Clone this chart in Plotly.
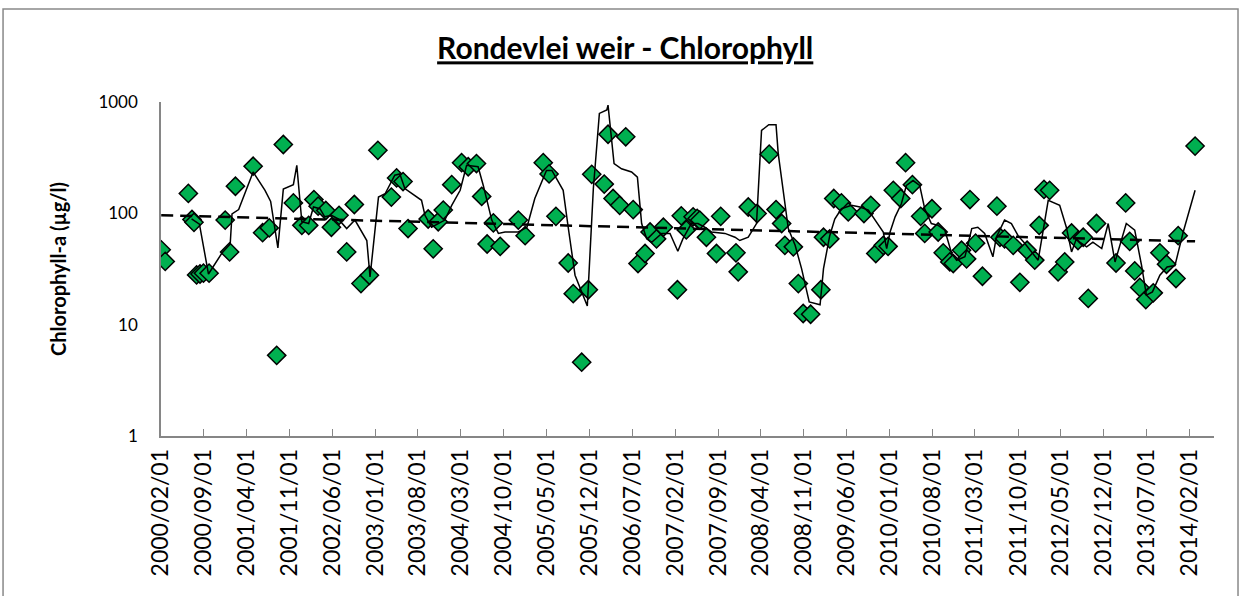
import plotly.graph_objects as go

# ---- measured points (weir samples) ----
point_dates = [
    "2000-02-02", "2000-02-22", "2000-06-16", "2000-07-04", "2000-07-14", "2000-07-27",
    "2000-08-13", "2000-08-30", "2000-09-27", "2000-12-16", "2001-01-07", "2001-02-05",
    "2001-05-04", "2001-06-20", "2001-07-23", "2001-08-29", "2001-10-01", "2001-11-20",
    "2002-01-01", "2002-02-04", "2002-03-02", "2002-03-23", "2002-04-30", "2002-05-28",
    "2002-07-05", "2002-08-12", "2002-09-19", "2002-10-22", "2002-12-03", "2003-01-14",
    "2003-03-22", "2003-04-17", "2003-05-19", "2003-06-13", "2003-09-21", "2003-10-16",
    "2003-11-10", "2003-12-05", "2004-01-16", "2004-03-05", "2004-04-07", "2004-05-18",
    "2004-06-13", "2004-07-10", "2004-08-10", "2004-09-13", "2004-12-12", "2005-01-15",
    "2005-04-15", "2005-05-14", "2005-06-17", "2005-08-17", "2005-09-11", "2005-10-23",
    "2005-11-25", "2005-12-12", "2006-02-12", "2006-03-03", "2006-03-28", "2006-04-30",
    "2006-05-30", "2006-07-06", "2006-07-30", "2006-09-03", "2006-09-28", "2006-10-30",
    "2006-12-03", "2007-02-11", "2007-03-02", "2007-03-27", "2007-04-30", "2007-05-20",
    "2007-06-02", "2007-07-05", "2007-08-24", "2007-09-14", "2007-11-29", "2007-12-10",
    "2008-01-29", "2008-03-13", "2008-05-12", "2008-06-15", "2008-07-13", "2008-07-29",
    "2008-09-09", "2008-10-04", "2008-10-28", "2008-12-04", "2009-01-24", "2009-02-06",
    "2009-03-09", "2009-03-29", "2009-05-06", "2009-06-09", "2009-08-26", "2009-09-29",
    "2009-10-24", "2009-11-30", "2009-12-24", "2010-01-19", "2010-02-25", "2010-03-21",
    "2010-04-24", "2010-06-04", "2010-06-24", "2010-07-30", "2010-08-30", "2010-09-24",
    "2010-10-27", "2010-11-13", "2010-12-24", "2011-01-18", "2011-02-04", "2011-03-04",
    "2011-04-07", "2011-06-18", "2011-07-03", "2011-07-26", "2011-09-07", "2011-10-10",
    "2011-11-15", "2011-12-23", "2012-01-14", "2012-02-07", "2012-03-06", "2012-04-17",
    "2012-05-20", "2012-06-23", "2012-07-25", "2012-08-20", "2012-09-14", "2012-10-25",
    "2013-01-30", "2013-03-19", "2013-04-08", "2013-05-03", "2013-05-28", "2013-06-27",
    "2013-08-03", "2013-09-05", "2013-10-08", "2013-11-24", "2013-12-05", "2014-02-27",
]
point_values = [
    47, 37, 151, 88, 83, 28,
    28.5, 29, 29, 87, 45, 175,
    265, 67, 74, 5.3, 415, 124,
    78, 78, 133, 116, 106, 75,
    96, 45, 120, 23.4, 27.8, 368,
    140, 208, 193, 73, 89, 48,
    84, 107, 181, 285, 262, 280,
    142, 53, 82, 50.5, 87, 63,
    285, 226, 94, 35.8, 19, 4.6,
    20.6, 224, 183, 513, 136, 118,
    487, 108, 35.4, 43.6, 68, 59,
    75, 20.6, 95, 71, 93, 90,
    87, 61, 43.6, 94, 44.2, 29.8,
    114, 99.6, 340, 108, 81, 51.6,
    50, 23.4, 12.6, 12.4, 20.6, 61,
    59, 136, 124, 103, 99.6, 118,
    43.6, 51.6, 50.5, 161, 136, 285,
    181, 94, 66, 110, 68, 44.2,
    36.6, 35.4, 46.6, 39, 133, 54,
    27.2, 116, 61, 59, 51.6, 24,
    46.6, 38, 78, 164, 161, 29.8,
    36.6, 66.6, 57, 61, 17.2, 81,
    35.8, 124, 56, 30.4, 21.6, 16.8,
    19.3, 44.2, 34.9, 26, 63, 402,
]

# ---- continuous line series ----
line_dates = [
    "2000-07-02", "2000-08-10", "2000-09-24", "2000-11-30", "2001-01-10", "2001-01-19",
    "2001-02-21", "2001-05-04", "2001-07-02", "2001-07-30", "2001-09-04", "2001-10-01",
    "2001-11-20", "2001-12-07", "2002-01-01", "2002-02-04", "2002-02-28", "2002-04-01",
    "2002-04-25", "2002-05-28", "2002-07-01", "2002-08-12", "2002-09-22", "2002-11-20",
    "2002-12-06", "2003-01-17", "2003-02-19", "2003-04-08", "2003-05-03", "2003-05-28",
    "2003-08-19", "2003-09-05", "2003-10-08", "2003-11-10", "2003-12-13", "2004-01-16",
    "2004-02-27", "2004-03-30", "2004-05-26", "2004-06-21", "2004-08-02", "2004-09-04",
    "2004-10-07", "2004-12-12", "2005-01-24", "2005-03-04", "2005-05-01", "2005-05-28",
    "2005-07-23", "2005-08-17", "2005-09-20", "2005-11-20", "2005-12-20", "2006-01-19",
    "2006-02-25", "2006-03-03", "2006-04-02", "2006-05-09", "2006-06-28", "2006-07-27",
    "2006-08-17", "2006-09-11", "2006-10-06", "2006-11-25", "2007-01-05", "2007-02-13",
    "2007-03-10", "2007-04-21", "2007-05-24", "2007-06-27", "2007-07-30", "2007-10-05",
    "2007-11-24", "2007-12-18", "2008-01-29", "2008-03-10", "2008-04-04", "2008-05-10",
    "2008-06-15", "2008-06-26", "2008-07-20", "2008-08-15", "2008-09-18", "2008-10-20",
    "2008-11-27", "2009-01-20", "2009-02-06", "2009-03-09", "2009-04-03", "2009-05-06",
    "2009-06-25", "2009-08-06", "2009-09-17", "2009-10-28", "2009-11-30", "2009-12-17",
    "2010-01-03", "2010-01-28", "2010-02-28", "2010-03-25", "2010-04-27", "2010-05-30",
    "2010-06-24", "2010-07-27", "2010-08-30", "2010-10-02", "2010-11-05", "2010-11-30",
    "2011-01-10", "2011-02-13", "2011-03-15", "2011-04-18", "2011-05-29", "2011-06-15",
    "2011-07-26", "2011-08-29", "2011-10-01", "2011-11-04", "2011-12-07", "2012-01-09",
    "2012-02-28", "2012-04-25", "2012-05-28", "2012-06-23", "2012-07-17", "2012-08-03",
    "2012-09-06", "2012-10-07", "2012-11-20", "2012-12-22", "2013-01-25", "2013-03-22",
    "2013-05-03", "2013-06-06", "2013-06-30", "2013-07-30", "2013-09-05", "2013-10-11",
    "2013-11-19", "2013-12-30", "2014-02-27",
]
line_values = [
    89, 80, 28.5, 44, 53, 99,
    108, 235, 161, 128, 49, 165,
    181, 270, 84, 81, 114, 110,
    93, 96, 89, 73, 87, 57,
    26.8, 140, 150, 220, 226, 167,
    131, 96, 75, 81, 87, 118,
    161, 270, 262, 178, 87, 66,
    68, 68, 75, 136, 243, 243,
    161, 75, 27.8, 14.7, 167, 790,
    850, 937, 280, 251, 235, 211,
    81, 59, 55, 66, 66, 45.6,
    59, 81, 81, 75, 68, 66,
    61, 57, 61, 81, 555, 625,
    625, 344, 156, 73, 51.6, 31.9,
    16, 15.1, 31.9, 63, 89, 110,
    118, 114, 107, 84, 68, 48.3,
    68, 93, 122, 178, 197, 178,
    110, 81, 78, 70.6, 43.6, 37.9,
    40.7, 73, 75, 66, 40.7, 61,
    87, 81, 63, 53.5, 45, 37.9,
    131, 118, 75, 45, 59, 55,
    50, 55, 48.3, 81, 36.6, 81,
    70.6, 34, 18.4, 19.7, 27.8, 33,
    34, 68, 161,
]

# ---- exponential trend line ----
trend_dates = ["2000-02-02", "2014-02-27"]
trend_values = [96, 56]

# ---- axis ticks ----
tick_dates = [f"{2000 + (1 + 7 * i) // 12}-{(1 + 7 * i) % 12 + 1:02d}-01" for i in range(25)]
tick_text = [d.replace("-", "/") for d in tick_dates]

FONT = "Lato, 'Open Sans', sans-serif"

fig = go.Figure()
fig.add_trace(go.Scatter(
    x=point_dates, y=point_values, mode="markers",
    marker=dict(symbol="diamond", size=14, color="#00B050",
                line=dict(color="black", width=1.5)),
    showlegend=False,
))
fig.add_trace(go.Scatter(
    x=line_dates, y=line_values, mode="lines",
    line=dict(color="black", width=1.5),
    showlegend=False,
))
fig.add_trace(go.Scatter(
    x=trend_dates, y=trend_values, mode="lines",
    line=dict(color="black", width=2.5, dash="12px,7px"),
    showlegend=False,
))

fig.update_layout(
    width=1243, height=596,
    margin=dict(l=161, r=29, t=102, b=160, autoexpand=False),
    paper_bgcolor="white", plot_bgcolor="white",
    font=dict(family=FONT, color="black"),
    title=dict(text="<u><b>Rondevlei weir - Chlorophyll</b></u>",
               x=0.503, xanchor="center", y=0.918, yanchor="middle",
               font=dict(size=30, family=FONT, color="black")),
    xaxis=dict(
        type="date", range=["2000-02-01", "2014-06-01"],
        tickmode="array", tickvals=tick_dates, ticktext=tick_text,
        tickangle=-90, tickfont=dict(size=23),
        ticks="inside", ticklen=7, tickcolor="#868686",
        showline=True, linecolor="#868686", linewidth=1.5,
        showgrid=False, zeroline=False, ticklabelstandoff=2,
        automargin=False,
    ),
    yaxis=dict(
        type="log", range=[0, 3],
        tickvals=[1, 10, 100, 1000], ticktext=["1", "10", "100", "1000"],
        tickfont=dict(size=17),
        showline=True, linecolor="#868686", linewidth=1.5,
        showgrid=False, zeroline=False, ticks="",
        ticklabelstandoff=18, automargin=False,
        title=dict(text="<b>Chlorophyll-a (µg/l)</b>", font=dict(size=20), standoff=26),
    ),
    shapes=[dict(type="rect", xref="paper", yref="paper",
                 x0=-0.150, x1=1.0228, y0=-0.55, y1=1.2784,
                 line=dict(color="#898989", width=1.5), fillcolor="rgba(0,0,0,0)",
                 layer="below")],
)

fig.write_html("out.html", config={"displayModeBar": False},
               post_script="document.body.style.margin='0px';")
